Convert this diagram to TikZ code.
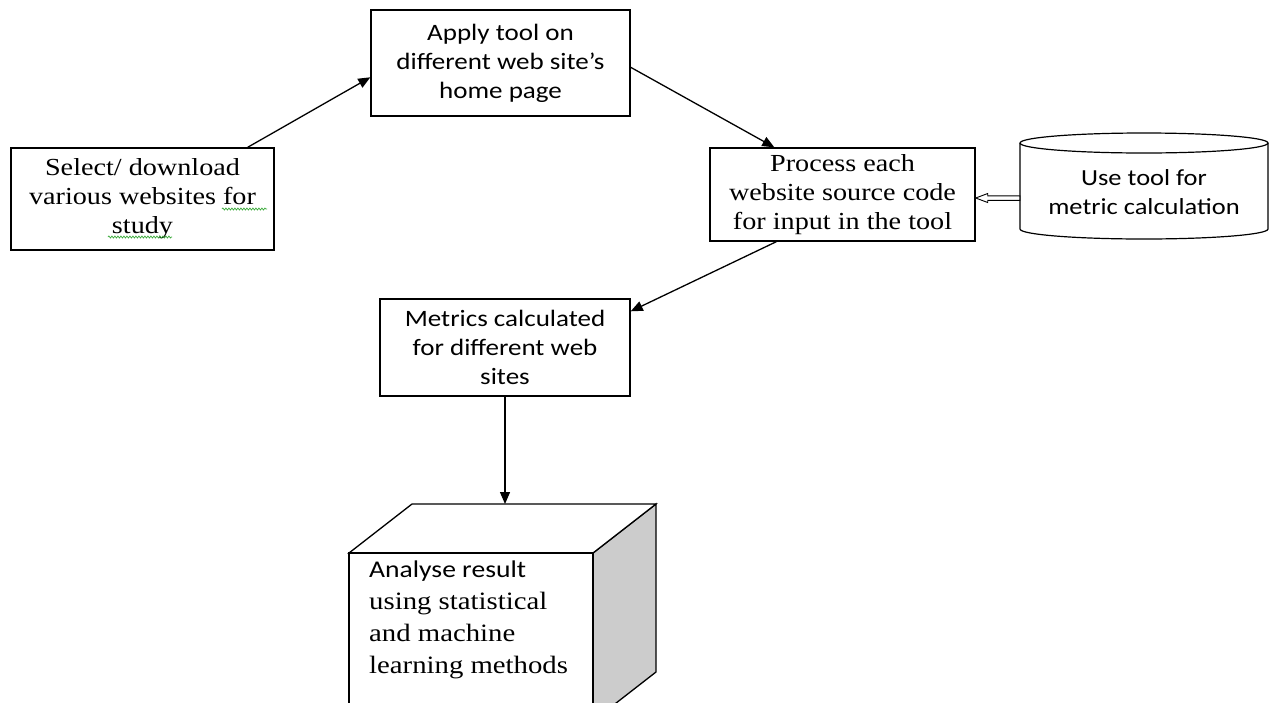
\documentclass[tikz,border=0pt]{standalone}
\usepackage{fontspec}
\usetikzlibrary{arrows.meta,calc,decorations.pathmorphing}
\newfontfamily\serifface[FakeStretch=1.15]{Liberation Serif}
\newfontfamily\calface[FakeStretch=1.15]{Carlito}
\definecolor{sidegray}{RGB}{204,204,204}
\definecolor{spellgreen}{RGB}{60,170,60}
\tikzset{
  box/.style={draw, line width=1.4pt, rectangle, inner sep=0pt, align=center, fill=white},
  serifbox/.style={box, font=\serifface\fontsize{24.5}{29}\selectfont},
  calbox/.style={box, font=\calface\fontsize{23.5}{29}\selectfont},
  arr/.style={line width=1.3pt, -{Triangle[length=12pt,width=10pt]}},
  squiggle/.style={spellgreen, line width=0.7pt, decorate,
    decoration={snake, amplitude=1pt, segment length=3pt}}
}
\begin{document}
\begin{tikzpicture}[x=1pt, y=-1pt]
  \useasboundingbox (0,0) rectangle (1277,702);
  \fill[white] (0,0) rectangle (1277,702);
  \clip (0,0) rectangle (1277,702);

  % process boxes
  \node[serifbox, minimum width=263pt, minimum height=102pt] (A) at (142.5,199)
    {Select/ download\\various websites for\\study};
  \node[calbox, minimum width=259pt, minimum height=106pt] (B) at (500.5,63)
    {Apply tool on\\different web site’s\\home page};
  \node[serifbox, minimum width=265pt, minimum height=93pt] (C) at (842.5,194.5)
    {Process each\\website source code\\for input in the tool};
  \node[calbox, minimum width=250pt, minimum height=97pt] (E) at (505,347.5)
    {Metrics calculated\\for different web\\sites};

  % spell-check marks
  \draw[squiggle] (222,209) -- (267,209);
  \draw[squiggle] (108,237) -- (172,237);

  % data store cylinder
  \draw[line width=1.2pt, fill=white] (1020,143) -- (1020,229)
    arc[start angle=180, end angle=360, x radius=124pt, y radius=10pt] -- (1268,143);
  \draw[line width=1.2pt] (1144,143) ellipse [x radius=124pt, y radius=10pt];
  \node[font=\calface\fontsize{23}{29}\selectfont, align=center, inner sep=0pt,
        minimum width=248pt, minimum height=86pt] (D) at (1144,192)
    {Use tool for\\metric calculation};

  % hollow arrow from the store into the processing step
  \draw[line width=0.9pt, fill=white]
    (C.east |- 0,198) -- ++(12,-4.5) -- ++(0,2.3) -- (D.west |- 0,195.8)
    -- (D.west |- 0,200.4) -- ($(C.east |- 0,198)+(12,2.4)$) -- ++(0,2.1) -- cycle;

  % result cube
  \coordinate (Ftop) at (503,504);
  \draw[line width=1.3pt, fill=sidegray] (593,553) -- (656,504) -- (656,672) -- (593,721) -- cycle;
  \draw[line width=1.3pt, fill=white] (349,553) -- (412,504) -- (656,504) -- (593,553) -- cycle;
  \draw[line width=1.3pt, fill=white] (349,553) rectangle (593,721);
  \node[anchor=north west, align=left, inner sep=0pt,
        font=\serifface\fontsize{25}{32}\selectfont] (F) at (369,561)
    {{\calface\fontsize{24}{32}\selectfont Analyse result}\\
     using statistical\\
     and machine\\
     learning methods};

  % flow connectors
  \draw[arr] ($(A.north east)+(-27,0)$) -- ($(B.north west)+(0,68)$);
  \draw[arr] ($(B.north east)+(0,58)$) -- ($(C.north west)+(65,0)$);
  \draw[arr] ($(C.south west)+(67,0)$) -- ($(E.north east)+(0,13)$);
  \draw[arr] (E.south) -- (E.south |- Ftop);
\end{tikzpicture}
\end{document}
